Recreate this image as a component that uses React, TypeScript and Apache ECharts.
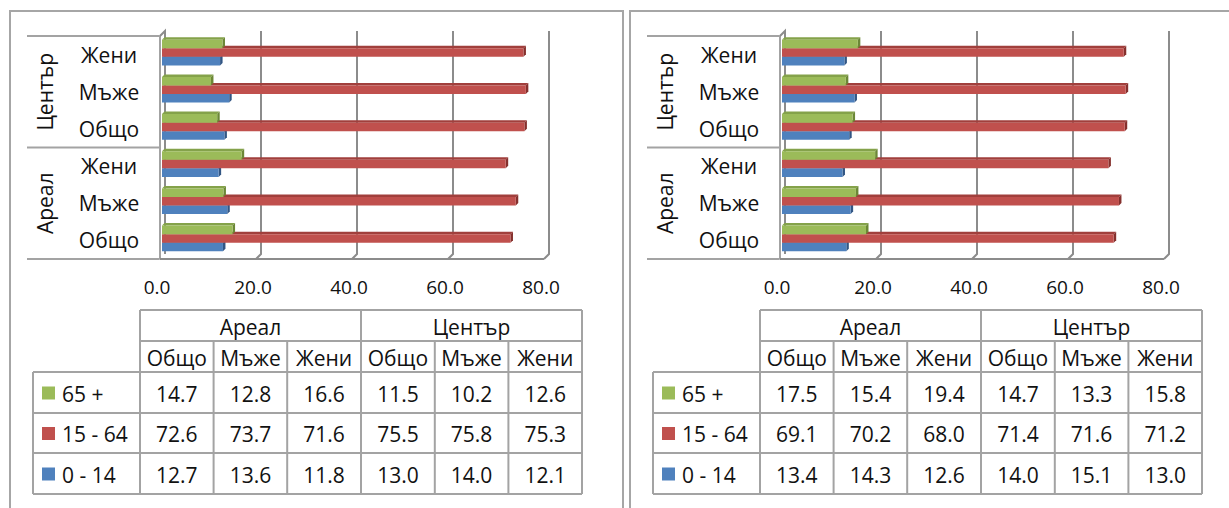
import React, { useEffect, useRef } from "react";
import * as echarts from "echarts";

// ---- data ----
const categories = ["Общо", "Мъже", "Жени", "Общо", "Мъже", "Жени"];
const groupNames = ["Ареал", "Център"];
const subHeaders = ["Общо", "Мъже", "Жени"];
const seriesNames = ["65 +", "15 - 64", "0 - 14"];
const xTicks = [0, 20, 40, 60, 80];

const leftOld = [14.7, 12.8, 16.6, 11.5, 10.2, 12.6];
const leftMid = [72.6, 73.7, 71.6, 75.5, 75.8, 75.3];
const leftYoung = [12.7, 13.6, 11.8, 13.0, 14.0, 12.1];

const rightOld = [17.5, 15.4, 19.4, 14.7, 13.3, 15.8];
const rightMid = [69.1, 70.2, 68.0, 71.4, 71.6, 71.2];
const rightYoung = [13.4, 14.3, 12.6, 14.0, 15.1, 13.0];

// ---- styles ----
const FRONT = ["#9BBB59", "#C0504D", "#4F81BD"];
const TOPF = ["#84a24a", "#a13f3c", "#3e6ca3"];
const SIDE = ["#6b8736", "#85302d", "#325684"];
const FONT = "Open Sans";
const TXT = "#111111";
const LINE = "#a3a3a3";
const GRIDC = "#8c8c8c";
const FS = 21;

const panels = [
  { ox: 0, data: [leftOld, leftMid, leftYoung] },
  { ox: 620, data: [rightOld, rightMid, rightYoung] },
];

const GL = 160, GT = 36, GW = 384, GH = 223;

function barRender(s: number) {
  return (params: any, api: any) => {
    const v = api.value(0);
    const c = api.value(1);
    const p0 = api.coord([0, c]);
    const p1 = api.coord([v, c]);
    const band = api.size([0, 1])[1];
    const bh = (band * 0.69) / 3;
    const d = 2.5;
    const cy = p0[1] - 2;
    const y0 = cy - 1.5 * bh + s * bh;
    const x0 = p0[0] + 2;
    const x1 = p1[0] + 2;
    return {
      type: "group",
      children: [
        {
          type: "polygon",
          shape: { points: [[x0, y0], [x0 + d, y0 - d], [x1 + d, y0 - d], [x1, y0]] },
          style: { fill: TOPF[s] },
        },
        {
          type: "polygon",
          shape: { points: [[x1, y0], [x1 + d, y0 - d], [x1 + d, y0 + bh - d], [x1, y0 + bh]] },
          style: { fill: SIDE[s] },
        },
        {
          type: "rect",
          shape: { x: x0, y: y0, width: x1 - x0, height: bh },
          style: { fill: FRONT[s] },
        },
      ],
    };
  };
}

function frameRender(params: any, api: any) {
  const cs = params.coordSys;
  const top = cs.y;
  const bottom = cs.y + cs.height;
  const d = 5;
  const children: any[] = [];
  xTicks.forEach((t) => {
    const x = api.coord([t, 0])[0];
    if (t === xTicks[0]) {
      children.push({
        type: "polyline",
        shape: { points: [[x, top], [x + d, top - d], [x + d, bottom - d]] },
        style: { stroke: GRIDC, lineWidth: 2, fill: null },
      });
    } else {
      children.push({
        type: "polyline",
        shape: { points: [[x + d, top - d], [x + d, bottom - d], [x, bottom]] },
        style: { stroke: GRIDC, lineWidth: 2, fill: null },
      });
    }
  });
  const xl = api.coord([xTicks[0], 0])[0];
  const xr = api.coord([xTicks[xTicks.length - 1], 0])[0];
  children.push({
    type: "line",
    shape: { x1: xl, y1: bottom, x2: xr, y2: bottom },
    style: { stroke: GRIDC, lineWidth: 2 },
  });
  return { type: "group", children };
}

function txt(x: number, y: number, text: string, extra: any = {}) {
  return {
    type: "text",
    x,
    y,
    silent: true,
    style: {
      text,
      fill: TXT,
      fontSize: FS,
      fontFamily: FONT,
      align: "center",
      verticalAlign: "middle",
      ...extra,
    },
  };
}

function ln(x1: number, y1: number, x2: number, y2: number, color = LINE, w = 2) {
  return {
    type: "line",
    silent: true,
    shape: { x1, y1, x2, y2 },
    style: { stroke: color, lineWidth: w },
  };
}

function buildPanelGraphics(ox: number, data: number[][]) {
  const els: any[] = [];
  const band = GH / categories.length;
  [0, 3, 6].forEach((k) => els.push(ln(ox + 27, GT + k * band, ox + GL - 1, GT + k * band)));
  const g0: any = txt(ox + 45, GT + band * 4.5, groupNames[0]);
  g0.rotation = Math.PI / 2;
  els.push(g0);
  const g1: any = txt(ox + 45, GT + band * 1.5, groupNames[1]);
  g1.rotation = Math.PI / 2;
  els.push(g1);

  // table
  const rows = [310, 341, 372, 413, 453, 494];
  const cols = [140, 213.6, 287.2, 361, 434.8, 508.4, 582];
  const legL = 33;
  els.push(ln(ox + cols[0], rows[0], ox + cols[6], rows[0]));
  els.push(ln(ox + cols[0], rows[1], ox + cols[6], rows[1]));
  for (let r = 2; r < rows.length; r++) els.push(ln(ox + legL, rows[r], ox + cols[6], rows[r]));
  els.push(ln(ox + legL, rows[2], ox + legL, rows[5]));
  [0, 3, 6].forEach((c) => els.push(ln(ox + cols[c], rows[0], ox + cols[c], rows[5])));
  [1, 2, 4, 5].forEach((c) => els.push(ln(ox + cols[c], rows[1], ox + cols[c], rows[5])));
  groupNames.forEach((g, gi) => {
    els.push(txt(ox + (cols[gi * 3] + cols[gi * 3 + 3]) / 2, (rows[0] + rows[1]) / 2 + 1, g));
  });
  for (let c = 0; c < 6; c++) {
    els.push(txt(ox + (cols[c] + cols[c + 1]) / 2, (rows[1] + rows[2]) / 2 + 1, subHeaders[c % 3]));
  }
  seriesNames.forEach((name, s) => {
    const cy = (rows[2 + s] + rows[3 + s]) / 2 + 1;
    els.push({
      type: "rect",
      silent: true,
      shape: { x: ox + 42, y: cy - 7, width: 13, height: 13 },
      style: { fill: FRONT[s] },
    });
    els.push(txt(ox + 62, cy, name, { align: "left" }));
    data[s].forEach((v, c) => {
      els.push(txt(ox + (cols[c] + cols[c + 1]) / 2, cy, v.toFixed(1)));
    });
  });
  return els;
}

export default function App() {
  const ref = useRef<HTMLDivElement>(null);
  useEffect(() => {
    document.body.style.margin = "0";
    if (!ref.current) return;
    const chart = echarts.init(ref.current, null, { renderer: "svg" });

    const grids = panels.map((p) => ({ left: GL + p.ox, top: GT, width: GW, height: GH }));
    const xAxes = panels.map((_, i) => ({
      type: "value",
      gridIndex: i,
      min: xTicks[0],
      max: xTicks[xTicks.length - 1],
      interval: 20,
      axisLine: { show: false },
      axisTick: { show: false },
      splitLine: { show: false },
      axisLabel: {
        formatter: (v: number) => v.toFixed(1),
        fontSize: 19,
        fontFamily: FONT,
        color: TXT,
        margin: 18,
        padding: [0, 6, 0, 0],
      },
    }));
    const yAxes = panels.map((_, i) => ({
      type: "category",
      gridIndex: i,
      data: categories,
      axisTick: { show: false },
      axisLine: { show: true, lineStyle: { color: LINE, width: 2 } },
      axisLabel: {
        fontSize: FS,
        fontFamily: FONT,
        color: TXT,
        align: "center",
        margin: 51,
      },
    }));

    const series: any[] = [];
    panels.forEach((p, i) => {
      series.push({
        type: "custom",
        xAxisIndex: i,
        yAxisIndex: i,
        z: 1,
        silent: true,
        data: [[0, 0]],
        renderItem: frameRender,
      });
      p.data.forEach((vals, s) => {
        series.push({
          type: "custom",
          name: seriesNames[s],
          xAxisIndex: i,
          yAxisIndex: i,
          z: 10 - s,
          encode: { x: 0, y: 1 },
          data: vals.map((v, k) => [v, k]),
          renderItem: barRender(s),
        });
      });
    });

    const graphic: any[] = [];
    graphic.push(ln(10, 11, 624, 11, "#a6a6a6"));
    graphic.push(ln(10, 10, 10, 508, "#a6a6a6"));
    graphic.push(ln(623, 10, 623, 508, "#a6a6a6"));
    graphic.push(ln(630, 11, 1229, 11, "#a6a6a6"));
    graphic.push(ln(630, 10, 630, 508, "#a6a6a6"));
    panels.forEach((p) => graphic.push(...buildPanelGraphics(p.ox, p.data)));

    chart.setOption({
      animation: false,
      backgroundColor: "#ffffff",
      grid: grids,
      xAxis: xAxes,
      yAxis: yAxes,
      series,
      graphic: { elements: graphic },
    });
    return () => chart.dispose();
  }, []);
  return (
    <div
      ref={ref}
      style={{ position: "absolute", left: 0, top: 0, width: 1229, height: 508 }}
    />
  );
}
